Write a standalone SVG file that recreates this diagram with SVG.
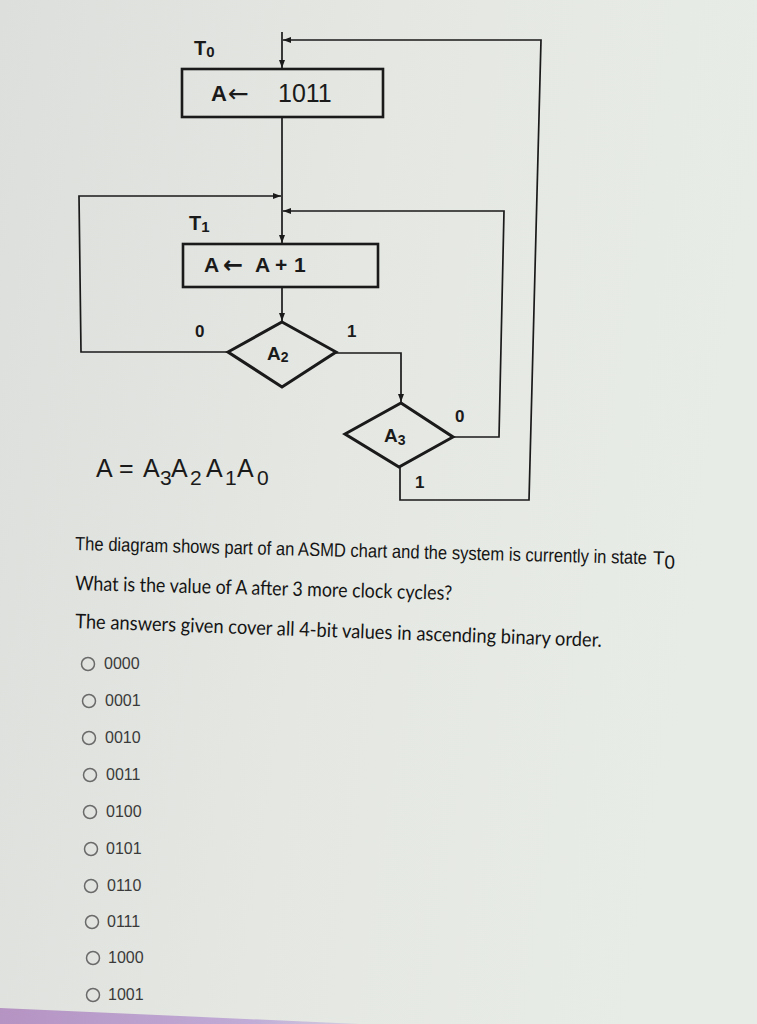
<svg xmlns="http://www.w3.org/2000/svg" width="757" height="1024" viewBox="0 0 757 1024">
<defs>
<linearGradient id="bg" x1="0" y1="0" x2="1" y2="0.2">
<stop offset="0" stop-color="#dcdfdb"/>
<stop offset="0.5" stop-color="#e4e7e2"/>
<stop offset="1" stop-color="#e8ece6"/>
</linearGradient>
<linearGradient id="purple" x1="0" y1="0" x2="1" y2="0">
<stop offset="0" stop-color="#b593c2"/>
<stop offset="0.7" stop-color="#c0acd6"/>
<stop offset="1" stop-color="#d4cfe0"/>
</linearGradient>
<marker id="arr" viewBox="0 0 8 6" refX="8" refY="3" markerWidth="8" markerHeight="6" markerUnits="userSpaceOnUse" orient="auto">
<path d="M0,0 L8,3 L0,6 z" fill="#1a1a1a"/>
</marker>
<style>
.box{fill:none;stroke:#1a1a1a;stroke-width:2.6}
.dia{fill:none;stroke:#1a1a1a;stroke-width:3;stroke-linejoin:miter}
.con{fill:none;stroke:#1a1a1a;stroke-width:1.7}
.lbl{font-family:"Liberation Sans","DejaVu Sans",sans-serif;font-weight:bold;fill:#1a1a1a}
.reg{font-family:"Liberation Sans","DejaVu Sans",sans-serif;fill:#1a1a1a}
.arw{font-family:"DejaVu Sans",sans-serif;fill:#1a1a1a}
.q1{font-family:"Liberation Sans",Arial,sans-serif;font-size:19px;fill:#151515}
.q2{font-family:Lato,"Open Sans",sans-serif;font-size:20px;fill:#151515}
.opt{font-family:"Liberation Sans",Arial,sans-serif;font-size:16px;fill:#3a3a3a}
.rad{fill:none;stroke:#6a6a6a;stroke-width:1.5}
</style>
</defs>
<rect x="0" y="0" width="757" height="1024" fill="url(#bg)"/>
<polygon points="0,1008 360,1024 0,1024" fill="url(#purple)"/>

<g id="connectors">
<path class="con" d="M282,32 V68" marker-end="url(#arr)"/>
<path class="con" d="M400,467 V500 H529 L541,40 H283" marker-end="url(#arr)"/>
<path class="con" d="M282,117 V243" marker-end="url(#arr)"/>
<path class="con" d="M228,352 H81 L79,196 H281" marker-end="url(#arr)"/>
<path class="con" d="M453,437 H499 L504,211 H283" marker-end="url(#arr)"/>
<path class="con" d="M282,287 V321" marker-end="url(#arr)"/>
<path class="con" d="M336,353 H401 V402" marker-end="url(#arr)"/>
</g>

<g id="state-T0">
<text class="lbl" x="194" y="55" font-size="20">T<tspan font-size="15" dy="2">0</tspan></text>
<rect class="box" x="182" y="69" width="201" height="48"/>
<text class="lbl" x="211" y="101" font-size="22">A</text>
<text class="arw" x="228" y="102" font-size="25">←</text>
<text class="reg" x="278" y="102" font-size="25">1011</text>
</g>

<g id="state-T1">
<text class="lbl" x="189" y="230" font-size="20">T<tspan font-size="15" dy="2">1</tspan></text>
<rect class="box" x="183" y="244" width="195" height="43"/>
<text class="lbl" font-size="21" y="272"><tspan x="204">A</tspan><tspan x="255">A</tspan><tspan x="275">+</tspan><tspan x="294">1</tspan></text>
<text class="arw" x="223" y="273" font-size="24" font-weight="bold">←</text>
</g>

<g id="decision-A2">
<polygon class="dia" points="282,322 336,352 282,387 228,352"/>
<text class="lbl" x="267" y="360" font-size="19">A<tspan font-size="14" dy="2">2</tspan></text>
<text class="lbl" x="195" y="337" font-size="17">0</text>
<text class="lbl" x="347" y="337" font-size="17">1</text>
</g>

<g id="decision-A3">
<polygon class="dia" points="401,403 453,437 399,467 345,434"/>
<text class="lbl" x="384" y="442" font-size="19">A<tspan font-size="14" dy="3">3</tspan></text>
<text class="lbl" x="455" y="422" font-size="17">0</text>
<text class="lbl" x="415" y="488" font-size="17">1</text>
</g>

<g id="equation">
<text class="reg" font-size="25" y="477"><tspan x="96">A</tspan><tspan x="119">=</tspan><tspan x="143">A</tspan><tspan x="160" font-size="21" dy="8">3</tspan><tspan x="171" dy="-8">A</tspan><tspan x="190" font-size="21" dy="8">2</tspan><tspan x="206" dy="-8">A</tspan><tspan x="225" font-size="21" dy="8">1</tspan><tspan x="237" dy="-8">A</tspan><tspan x="257" font-size="21" dy="8">0</tspan></text>
</g>

<g id="question">
<g transform="rotate(1.42 75 550)">
<text class="q1" x="75" y="550" textLength="572" lengthAdjust="spacingAndGlyphs">The diagram shows part of an ASMD chart and the system is currently in state</text>
<text class="q1" x="653" y="550">T<tspan dy="4">0</tspan></text>
</g>
<text class="q2" x="75" y="590" textLength="377" lengthAdjust="spacingAndGlyphs" transform="rotate(1.5 75 590)">What is the value of A after 3 more clock cycles?</text>
<text class="q2" x="75" y="628" textLength="527" lengthAdjust="spacingAndGlyphs" transform="rotate(2.06 75 628)">The answers given cover all 4-bit values in ascending binary order.</text>
</g>

<g id="options">
<circle class="rad" cx="88" cy="664" r="6.5"/><text class="opt" x="104" y="669">0000</text>
<circle class="rad" cx="89" cy="701" r="6.5"/><text class="opt" x="105" y="706">0001</text>
<circle class="rad" cx="89" cy="738" r="6.5"/><text class="opt" x="105" y="743">0010</text>
<circle class="rad" cx="90" cy="775" r="6.5"/><text class="opt" x="106" y="780">0011</text>
<circle class="rad" cx="90" cy="812" r="6.5"/><text class="opt" x="106" y="817">0100</text>
<circle class="rad" cx="91" cy="849" r="6.5"/><text class="opt" x="106" y="854">0101</text>
<circle class="rad" cx="91" cy="886" r="6.5"/><text class="opt" x="107" y="891">0110</text>
<circle class="rad" cx="92" cy="922" r="6.5"/><text class="opt" x="107" y="927">0111</text>
<circle class="rad" cx="93" cy="958" r="6.5"/><text class="opt" x="108" y="963">1000</text>
<circle class="rad" cx="93" cy="995" r="6.5"/><text class="opt" x="108" y="1000">1001</text>
</g>
</svg>
